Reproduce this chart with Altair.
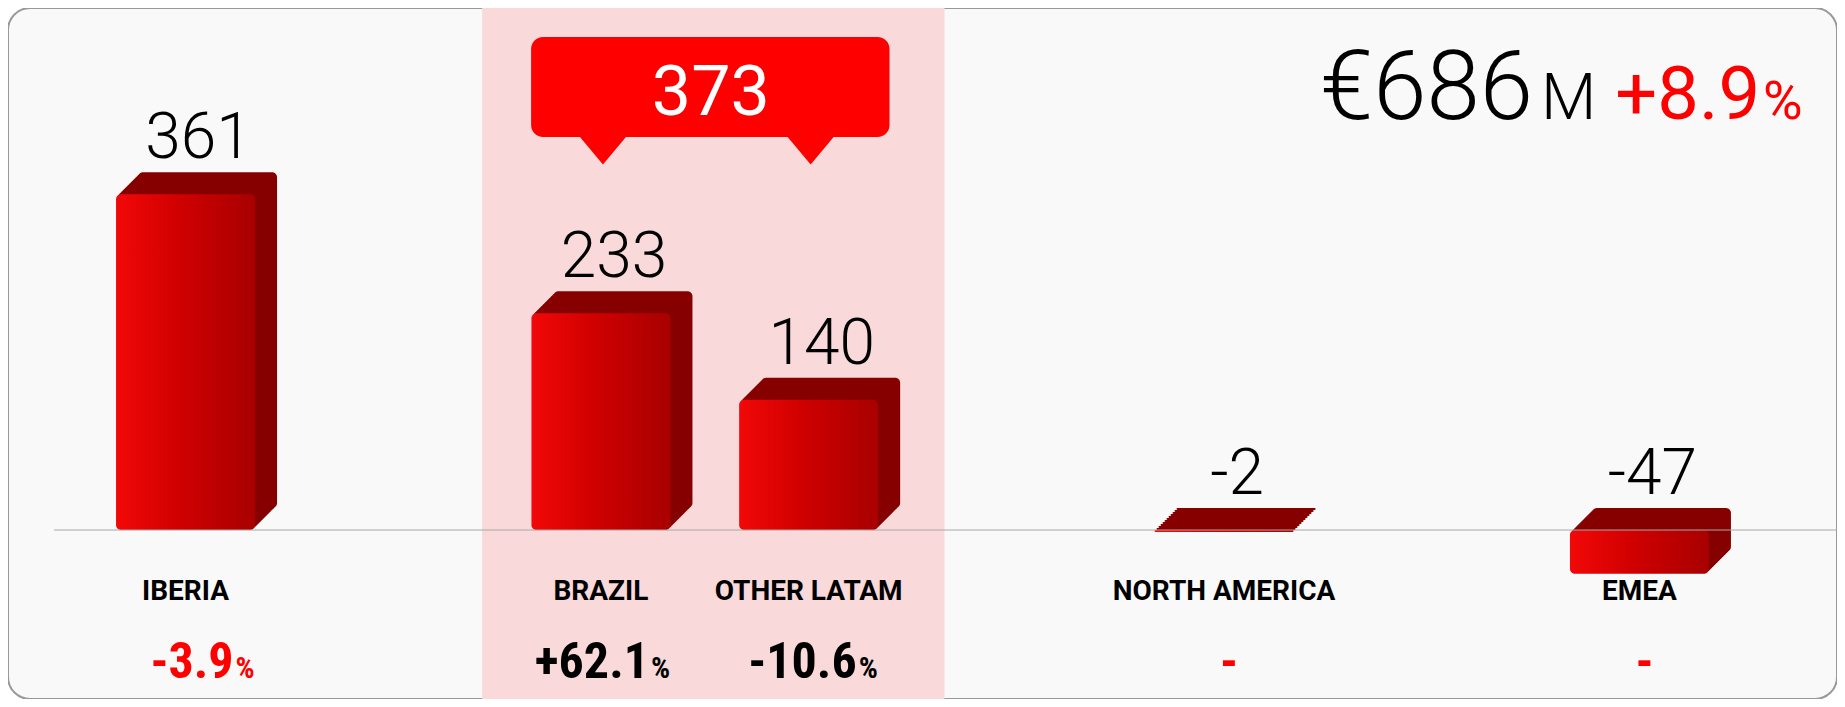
import altair as alt
import pandas as pd

# ---------------- data ----------------
categories = ["IBERIA", "BRAZIL", "OTHER LATAM", "NORTH AMERICA", "EMEA"]
values = [361, 233, 140, -2, -47]
changes = ["-3.9", "+62.1", "-10.6", "-", "-"]
change_units = ["%", "%", "%", "", ""]
highlighted = [False, True, True, False, False]
slot_order = ["IBERIA", "gap1", "BRAZIL", "OTHER LATAM", "gap2", "NORTH AMERICA", "gap3", "EMEA"]
headline_total = ["€686", "M"]
headline_change = ["+8.9", "%"]

# ---------------- layout / style ----------------
W, H = 1829, 691
RED = "#ff0000"
DARK = "#860000"
PINK = "#f9d9d9"
LIGHT = "Roboto"
NARROW = "Liberation Sans Narrow, Roboto Condensed, Roboto"

df = pd.DataFrame({
    "category": categories,
    "value": values,
    "label": [str(v) for v in values],
    "change": changes,
    "unit": change_units,
    "highlighted": highlighted,
})
group_total = sum(v for v, h in zip(values, highlighted) if h)
hl = [c for c, h in zip(categories, highlighted) if h]
band_df = pd.DataFrame({"start": [hl[0]], "end": [hl[-1]], "total": [str(group_total)]})

xscale = alt.Scale(domain=slot_order, paddingInner=0, paddingOuter=0.403)
yscale = alt.Scale(domain=[-181.7, 561.3], nice=False, zero=False)
X = alt.X("category:N", scale=xscale, axis=None)
Y = alt.Y("value:Q", scale=yscale, axis=None)
XS = alt.X("start:N", scale=xscale, axis=None, bandPosition=0)
XE = alt.X2("end", bandPosition=1)

base = alt.Chart(df)

# highlighted region
pink = alt.Chart(band_df).mark_rect(color=PINK, xOffset=-25, x2Offset=22).encode(
    x=XS, x2=XE, y=alt.value(0), y2=alt.value(H)
)

# callout
box = alt.Chart(band_df).mark_rect(color=RED, cornerRadius=12, xOffset=24, x2Offset=-33).encode(
    x=XS, x2=XE, y=alt.value(29), y2=alt.value(129)
)
tri = base.transform_filter("datum.highlighted").mark_point(
    shape="M -1 -1 L 1 -1 L 0 0.2 Z", filled=True, color=RED, opacity=1,
    size=2116, strokeWidth=0, xOffset=-8
).encode(x=X, y=alt.value(152))
box_text = alt.Chart(band_df).mark_text(
    color="white", font=LIGHT, fontWeight=400, fontSize=70, baseline="alphabetic", xOffset=-4
).encode(x=alt.X("start:N", scale=xscale, axis=None, bandPosition=1), y=alt.value(107), text="total:N")

# 3D bars: extrusion layers then front face
depth_layers = []
for k in range(22, 0, -2):
    depth_layers.append(
        base.mark_bar(width=139, color=DARK, cornerRadius=5, xOffset=-10 + k,
                      yOffset=-k, y2Offset=-k).encode(x=X, y=Y, y2=alt.datum(0))
    )
front_grad = alt.Gradient(
    gradient="linear", x1=0, x2=1, y1=0, y2=0,
    stops=[alt.GradientStop(color="#f20808", offset=0),
           alt.GradientStop(color="#d00000", offset=0.45),
           alt.GradientStop(color="#a80000", offset=1)],
)
front = base.mark_bar(width=139, color=front_grad, cornerRadius=5, xOffset=-10).encode(
    x=X, y=Y, y2=alt.datum(0)
)

zero = alt.Chart(pd.DataFrame({"v": [0]})).mark_rule(color="#a9a9a9", strokeWidth=1).encode(
    y=alt.Y("v:Q", scale=yscale, axis=None), x=alt.value(46), x2=alt.value(W)
)

vals = base.transform_calculate(top="max(datum.value, 0)").mark_text(
    font=LIGHT, fontWeight=300, fontSize=64, baseline="alphabetic", dy=-36, xOffset=3, color="black"
).encode(x=X, y=alt.Y("top:Q", scale=yscale, axis=None), text="label:N")

cats = base.mark_text(
    font=LIGHT, fontWeight="bold", fontSize=28, baseline="alphabetic", xOffset=-10, color="black"
).encode(x=X, y=alt.value(592), text="category:N")

pct_color = alt.condition("datum.highlighted", alt.value("black"), alt.value(RED))
pct_num = base.transform_filter("datum.unit != ''").mark_text(
    font=NARROW, fontWeight="bold", fontSize=50, align="right", baseline="alphabetic", dx=38
).encode(x=X, y=alt.value(670), text="change:N", color=pct_color)
pct_unit = base.transform_filter("datum.unit != ''").mark_text(
    font=NARROW, fontWeight="bold", fontSize=30, align="left", baseline="alphabetic", dx=40
).encode(x=X, y=alt.value(670), text="unit:N", color=pct_color)
pct_dash = base.transform_filter("datum.unit == ''").mark_text(
    font=NARROW, fontWeight="bold", fontSize=50, align="center", baseline="alphabetic", dx=-5
).encode(x=X, y=alt.value(670), text="change:N", color=pct_color)

# headline
def headline(text, x, size, weight, color, align):
    return alt.Chart(pd.DataFrame({"t": [text]})).mark_text(
        font=LIGHT, fontWeight=weight, fontSize=size, align=align, baseline="alphabetic", color=color
    ).encode(x=alt.value(x), y=alt.value(111), text="t:N")

h1 = headline(headline_total[0], 1525, 96, 300, "black", "right")
h2 = headline(headline_total[1], 1533, 64, 300, "black", "left")
h3 = headline(headline_change[0], 1752, 74, 400, RED, "right")
h4 = headline(headline_change[1], 1755, 54, 400, RED, "left")

chart = alt.layer(
    pink, box, tri, box_text, *depth_layers, front, zero, vals, cats,
    pct_num, pct_unit, pct_dash, h1, h2, h3, h4
).properties(
    width=W, height=H, padding=0, autosize=alt.AutoSizeParams(type="none")
).configure_view(
    fill="#f9f9f9", stroke="#999999", strokeWidth=2, cornerRadius=22
)

chart.save("out.html", embed_options={"renderer": "svg", "actions": False})
